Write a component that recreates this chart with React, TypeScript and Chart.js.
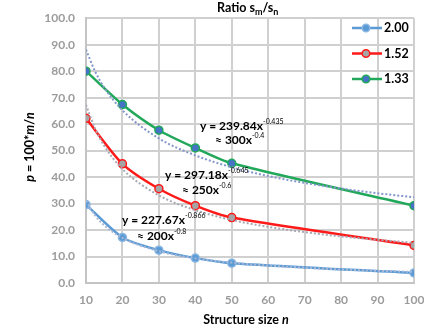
import React, { useEffect, useRef } from "react";
import { Chart, registerables } from "chart.js";
Chart.register(...registerables);

// ---- data ----
const xValues = [10, 20, 30, 40, 50, 100];
const series200 = [29.6, 17.2, 12.4, 9.4, 7.5, 3.8];
const series152 = [62.2, 45.0, 35.6, 29.2, 24.7, 14.2];
const series133 = [80.0, 67.4, 57.7, 51.0, 45.2, 29.2];
const seriesLabels = ["2.00", "1.52", "1.33"];

// fitted power-law trendlines
const trendX = [10, 12.5, 15, 20, 30, 40, 50, 60, 70, 80, 90, 100];
const trend200 = [31.0, 25.5, 21.8, 17.0, 12.0, 9.3, 7.7, 6.6, 5.8, 5.1, 4.6, 4.2];
const trend152 = [67.3, 58.3, 51.8, 43.0, 33.1, 27.5, 23.8, 21.2, 19.2, 17.6, 16.3, 15.2];
const trend133 = [88.1, 79.9, 73.8, 65.2, 54.6, 48.2, 43.7, 40.4, 37.8, 35.7, 33.9, 32.4];

const fitLabels = [
  { main: "y = 227.67x", sup: "-0.866", approx: "≈ 200x", approxSup: "-0.8" },
  { main: "y = 297.18x", sup: "-0.645", approx: "≈ 250x", approxSup: "-0.6" },
  { main: "y = 239.84x", sup: "-0.435", approx: "≈ 300x", approxSup: "-0.4" },
];

const FONT = "Lato, 'Open Sans', sans-serif";

type Part = { t: string; k?: "sup" | "sub" | "it" };

function drawRich(ctx: CanvasRenderingContext2D, x: number, y: number, parts: Part[], size: number, align: "left" | "center" = "left") {
  const fontFor = (k?: string) => {
    if (k === "sup") return `${Math.round(size * 0.62)}px ${FONT}`;
    if (k === "sub") return `bold ${Math.round(size * 0.7)}px ${FONT}`;
    if (k === "it") return `italic bold ${size}px ${FONT}`;
    return `bold ${size}px ${FONT}`;
  };
  let total = 0;
  for (const p of parts) {
    ctx.font = fontFor(p.k);
    total += ctx.measureText(p.t).width;
  }
  let cx = align === "center" ? x - total / 2 : x;
  ctx.textBaseline = "middle";
  ctx.textAlign = "left";
  for (const p of parts) {
    ctx.font = fontFor(p.k);
    let dy = 0;
    if (p.k === "sup") dy = -size * 0.38;
    if (p.k === "sub") dy = size * 0.3;
    ctx.fillText(p.t, cx, y + dy);
    cx += ctx.measureText(p.t).width;
  }
}

const overlayPlugin = {
  id: "overlay",
  afterDraw(chart: any) {
    const ctx: CanvasRenderingContext2D = chart.ctx;
    ctx.save();
    ctx.fillStyle = "#000";
    // title
    drawRich(ctx, 217, 8, [{ t: "Ratio s" }, { t: "m", k: "sub" }, { t: "/s" }, { t: "n", k: "sub" }], 12.5);
    // x title
    drawRich(ctx, 246, 320, [{ t: "Structure size " }, { t: "n", k: "it" }], 12.5, "center");
    // y title
    ctx.save();
    ctx.translate(30, 147);
    ctx.rotate(-Math.PI / 2);
    drawRich(ctx, 0, 0, [{ t: "p", k: "it" }, { t: " = 100*" }, { t: "m", k: "it" }, { t: "/" }, { t: "n", k: "it" }], 12.5, "center");
    ctx.restore();

    // fit equations
    const pos = [
      { x: 122, y: 220, ax: 137, ay: 236 },
      { x: 165, y: 175, ax: 182, ay: 190 },
      { x: 200, y: 126, ax: 215, ay: 140 },
    ];
    fitLabels.forEach((f, i) => {
      const p = pos[i];
      drawRich(ctx, p.x, p.y, [{ t: f.main }, { t: f.sup, k: "sup" }], 12);
      drawRich(ctx, p.ax, p.ay, [{ t: f.approx }, { t: f.approxSup, k: "sup" }], 12);
    });

    // legend
    const ds = chart.data.datasets.filter((d: any) => !d.isTrend);
    ds.forEach((d: any, i: number) => {
      const y = 28 + i * 25.5;
      ctx.strokeStyle = d.borderColor;
      ctx.lineWidth = 2.5;
      ctx.beginPath();
      ctx.moveTo(352, y);
      ctx.lineTo(382, y);
      ctx.stroke();
      ctx.beginPath();
      ctx.arc(366, y, 3.8, 0, Math.PI * 2);
      ctx.fillStyle = d.pointBackgroundColor;
      ctx.fill();
      ctx.lineWidth = 1.5;
      ctx.strokeStyle = d.pointBorderColor;
      ctx.stroke();
      ctx.fillStyle = "#000";
      drawRich(ctx, 384, y, [{ t: d.label }], 12.5);
    });
    ctx.restore();
  },
};

export default function App() {
  const ref = useRef<HTMLCanvasElement | null>(null);
  useEffect(() => {
    if (!ref.current) return;
    const pts = (ys: number[], xs: number[]) => xs.map((x, i) => ({ x, y: ys[i] }));
    const trend = (ys: number[], color: string) => ({
      label: "trend",
      isTrend: true,
      data: pts(ys, trendX),
      borderColor: color,
      borderWidth: 2,
      borderDash: [2, 2],
      pointRadius: 0,
      cubicInterpolationMode: "monotone",
      fill: false,
      order: 0,
    });
    const series = (label: string, ys: number[], line: string, bg: string, border: string) => ({
      label,
      data: pts(ys, xValues),
      borderColor: line,
      borderWidth: 2.5,
      pointBackgroundColor: bg,
      pointBorderColor: border,
      pointBorderWidth: 1.5,
      pointRadius: 4,
      tension: 0.25,
      fill: false,
      order: 1,
    });
    const chart = new Chart(ref.current, {
      type: "line",
      data: {
        datasets: [
          series(seriesLabels[0], series200, "#5b9bd5", "#5b9bd5", "#8ab6e2"),
          series(seriesLabels[1], series152, "#ff1a1a", "#a5a5a5", "#ff1a1a"),
          series(seriesLabels[2], series133, "#22a85a", "#4472c4", "#22a85a"),
          trend(trend200, "#a9b7d6"),
          trend(trend152, "#a8a8b4"),
          trend(trend133, "#8497cc"),
        ] as any,
      },
      options: {
        animation: false,
        responsive: false,
        layout: { padding: { top: 15, right: 10, left: 0, bottom: 0 } },
        plugins: { legend: { display: false }, tooltip: { enabled: false }, title: { display: false } },
        scales: {
          x: {
            type: "linear",
            min: 10,
            max: 100,
            ticks: { stepSize: 10, color: "#9c9c9c", font: { family: FONT, size: 12, weight: "bold" }, padding: 10 },
            grid: { color: "#d0d0d0", lineWidth: 2, drawTicks: false },
            border: { color: "#c4c4c4", width: 2 },
            afterFit: (s: any) => {
              s.height = 44;
              s.paddingLeft = 0;
              s.paddingRight = 0;
            },
          },
          y: {
            min: 0,
            max: 100,
            ticks: {
              stepSize: 10,
              color: "#9c9c9c",
              font: { family: FONT, size: 12, weight: "bold" },
              padding: 11,
              callback: (v: any) => Number(v).toFixed(1),
            },
            grid: { color: "#d0d0d0", lineWidth: 2, drawTicks: false },
            border: { color: "#c4c4c4", width: 2 },
            afterFit: (s: any) => {
              s.width = 86;
            },
          },
        },
      } as any,
      plugins: [overlayPlugin],
    });
    return () => chart.destroy();
  }, []);
  return (
    <div style={{ position: "absolute", left: 0, top: 0, width: 424, height: 327 }}>
      <canvas ref={ref} width={424} height={327} style={{ width: 424, height: 327 }} />
    </div>
  );
}
